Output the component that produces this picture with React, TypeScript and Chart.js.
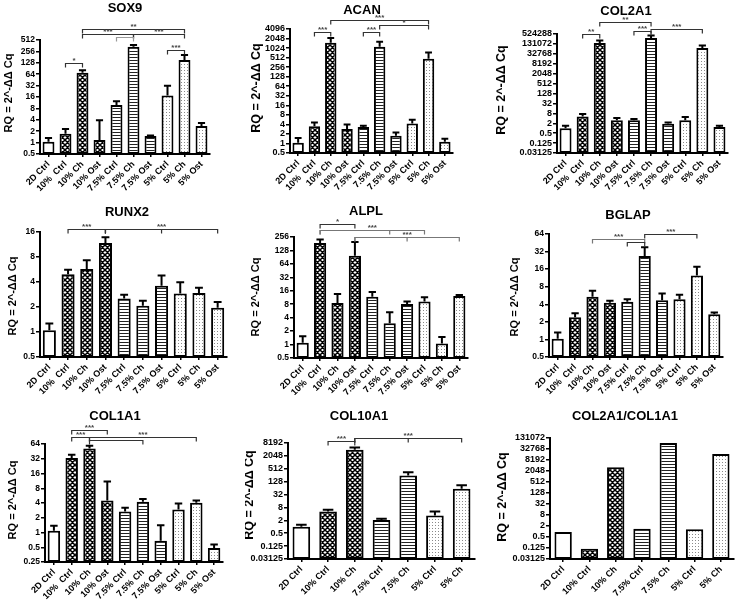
import React, { useEffect, useRef } from "react";
import { Chart, registerables } from "chart.js";
Chart.register(...registerables);

const FONT = "'Liberation Sans', Arial, Helvetica, sans-serif";
const Y_TITLE = "RQ = 2^-ΔΔ Cq";

// ---------- categories ----------
const labels10 = ["2D Ctrl", "10%  Ctrl", "10% Ch", "10% Ost", "7.5% Ctrl", "7.5% Ch", "7.5% Ost", "5% Ctrl", "5% Ch", "5% Ost"];
const labels7 = ["2D Ctrl", "10% Ctrl", "10% Ch", "7.5% Ctrl", "7.5% Ch", "5% Ctrl", "5% Ch"];

// ---------- SOX9 ----------
const sox9Mean = [1.05, 1.72, 70, 1.17, 9.9, 338, 1.5, 17.4, 152, 2.73];
const sox9ErrTop = [1.32, 2.28, 81, 3.9, 12.3, 375, 1.55, 31.7, 205, 3.3];
const sox9Ticks = [0.5, 1, 2, 4, 8, 16, 32, 64, 128, 256, 512];
const sox9Brackets: [number, number, number, string, string?][] = [
  [2, 8, 1000, "**"], [2, 5, 740, "***"], [5, 8, 740, "***"], [4, 5, 615, "", "#999"], [1, 2, 126, "*"], [7, 8, 278, "***"],
];

// ---------- ACAN ----------
const acanMean = [1.05, 3.5, 1510, 2.84, 3.3, 1130, 1.75, 4.3, 471, 1.13];
const acanErrTop = [1.5, 4.6, 2120, 4, 3.6, 1620, 2.2, 5.6, 748, 1.4];
const acanTicks = [0.5, 1, 2, 4, 8, 16, 32, 64, 128, 256, 512, 1024, 2048, 4096];
const acanBrackets: [number, number, number, string, string?][] = [
  [1, 2, 3350, "***"], [2, 8, 7860, "***"], [4, 5, 3350, "***"], [5, 8, 5480, "*"],
];

// ---------- COL2A1 ----------
const col2Mean = [1.0, 5.2, 148000, 3.0, 3.0, 299000, 1.88, 3.0, 73700, 1.18];
const col2ErrTop = [1.4, 7.3, 213000, 4.2, 3.6, 427000, 2.2, 4.8, 106000, 1.4];
const col2Ticks = [0.03125, 0.125, 0.5, 2, 8, 32, 128, 512, 2048, 8192, 32768, 131072, 524288];
const col2Brackets: [number, number, number, string, string?][] = [
  [1, 2, 550000, "**"], [2, 5, 2900000, "**"], [4, 5, 827000, "***"], [5, 8, 1050000, "***"],
];

// ---------- RUNX2 ----------
const runx2Mean = [1.05, 4.96, 5.75, 11.8, 2.54, 2.07, 3.6, 2.9, 2.95, 1.96];
const runx2ErrTop = [1.27, 5.6, 7.3, 13.8, 2.8, 2.38, 4.8, 3.97, 3.4, 2.3];
const runx2Ticks = [0.5, 1, 2, 4, 8, 16];
const runx2Brackets: [number, number, number, string, string?][] = [
  [1, 3, 17.5, "***"], [3, 6, 17.5, ""], [3, 9, 17.5, "***"],
];

// ---------- ALPL ----------
const alplMean = [1.1, 189, 8.5, 97, 11.8, 3.0, 8.1, 9.2, 1.06, 12.2];
const alplErrTop = [1.53, 224, 13.5, 199, 15, 5.3, 9.2, 11.5, 1.47, 12.8];
const alplTicks = [0.5, 1, 2, 4, 8, 16, 32, 64, 128, 256];
const alplBrackets: [number, number, number, string, string?][] = [
  [1, 3, 494, "*"], [1, 5, 375, "", "#777"], [1, 7, 375, "***", "#777"], [3, 6, 256, "", "#777"], [3, 9, 256, "***", "#777"],
];

// ---------- BGLAP ----------
const bglapMean = [1.03, 2.41, 5.4, 4.26, 4.4, 27, 4.7, 4.9, 12.4, 2.7];
const bglapErrTop = [1.31, 2.8, 6.8, 4.6, 4.9, 37.8, 6.1, 5.8, 17.5, 2.9];
const bglapTicks = [0.5, 1, 2, 4, 8, 16, 32, 64];
const bglapBrackets: [number, number, number, string, string?][] = [
  [2, 5, 52, "***", "#777"], [4, 5, 46.5, ""], [5, 8, 63.7, "***"],
];

// ---------- COL1A1 ----------
const col1Mean = [1.08, 33, 52, 4.5, 2.68, 4.25, 0.68, 2.94, 4.06, 0.48];
const col1ErrTop = [1.37, 38.5, 59, 11, 3.2, 4.8, 1.4, 3.9, 4.5, 0.57];
const col1Ticks = [0.25, 0.5, 1, 2, 4, 8, 16, 32, 64];
const col1Brackets: [number, number, number, string, string?][] = [
  [1, 3, 125, "***"], [1, 2, 87, "***"], [2, 8, 87, "***"], [2, 5, 75.8, ""],
];

// ---------- COL10A1 ----------
const col10Mean = [1.0, 5.2, 3960, 2.07, 250, 3.4, 60];
const col10ErrTop = [1.26, 6.2, 5100, 2.4, 350, 5.2, 86];
const col10Ticks = [0.03125, 0.125, 0.5, 2, 8, 32, 128, 512, 2048, 8192];
const col10Brackets: [number, number, number, string, string?][] = [
  [1, 2, 10600, "***"], [2, 4, 14200, ""], [2, 6, 14200, "***"],
];

// ---------- COL2A1/COL1A1 ----------
const ratioValues = [0.94, 0.115, 3250, 1.43, 70000, 1.31, 17500];
const ratioTicks = [0.03125, 0.125, 0.5, 2, 8, 32, 128, 512, 2048, 8192, 32768, 131072];

type Panel = {
  title: string;
  labels: string[];
  values: number[];
  errTop?: number[];
  ticks: number[];
  brackets: [number, number, number, string, string?][];
  box: [number, number, number, number];
  plot: [number, number, number, number];
  titlePos: [number, number];
  yTitlePos: [number, number];
  tickSize: number;
  yTitleSize: number;
  barPct: number;
};

const panels: Panel[] = [
  { title: "SOX9", labels: labels10, values: sox9Mean, errTop: sox9ErrTop, ticks: sox9Ticks, brackets: sox9Brackets,
    box: [0, 0, 245, 195], plot: [40, 40, 210, 154], titlePos: [125, 8], yTitlePos: [9, 93], tickSize: 8.5, yTitleSize: 11, barPct: 0.7 },
  { title: "ACAN", labels: labels10, values: acanMean, errTop: acanErrTop, ticks: acanTicks, brackets: acanBrackets,
    box: [245, 0, 245, 195], plot: [290, 29, 453, 153], titlePos: [362, 10], yTitlePos: [257, 88], tickSize: 9, yTitleSize: 12.5, barPct: 0.7 },
  { title: "COL2A1", labels: labels10, values: col2Mean, errTop: col2ErrTop, ticks: col2Ticks, brackets: col2Brackets,
    box: [490, 0, 250, 195], plot: [557, 34, 728, 153], titlePos: [626, 11], yTitlePos: [502, 90], tickSize: 9, yTitleSize: 12.5, barPct: 0.7 },
  { title: "RUNX2", labels: labels10, values: runx2Mean, errTop: runx2ErrTop, ticks: runx2Ticks, brackets: runx2Brackets,
    box: [0, 195, 245, 200], plot: [40, 232, 227, 357], titlePos: [127, 212], yTitlePos: [13, 296], tickSize: 8.5, yTitleSize: 11, barPct: 0.7 },
  { title: "ALPL", labels: labels10, values: alplMean, errTop: alplErrTop, ticks: alplTicks, brackets: alplBrackets,
    box: [245, 195, 245, 200], plot: [294, 237, 468, 358], titlePos: [366, 211], yTitlePos: [256, 297], tickSize: 8.5, yTitleSize: 11, barPct: 0.7 },
  { title: "BGLAP", labels: labels10, values: bglapMean, errTop: bglapErrTop, ticks: bglapTicks, brackets: bglapBrackets,
    box: [490, 195, 250, 200], plot: [549, 234, 723, 357], titlePos: [628, 215], yTitlePos: [515, 297], tickSize: 8.5, yTitleSize: 11, barPct: 0.7 },
  { title: "COL1A1", labels: labels10, values: col1Mean, errTop: col1ErrTop, ticks: col1Ticks, brackets: col1Brackets,
    box: [0, 395, 245, 207], plot: [45, 444, 223, 562], titlePos: [115, 416], yTitlePos: [13, 500], tickSize: 8.5, yTitleSize: 11, barPct: 0.7 },
  { title: "COL10A1", labels: labels7, values: col10Mean, errTop: col10ErrTop, ticks: col10Ticks, brackets: col10Brackets,
    box: [245, 395, 245, 207], plot: [288, 443, 475, 559], titlePos: [359, 416], yTitlePos: [250, 495], tickSize: 9, yTitleSize: 12.5, barPct: 0.66 },
  { title: "COL2A1/COL1A1", labels: labels7, values: ratioValues, ticks: ratioTicks, brackets: [],
    box: [490, 395, 250, 207], plot: [550, 438, 734, 559], titlePos: [625, 416], yTitlePos: [503, 497], tickSize: 9, yTitleSize: 12.5, barPct: 0.66 },
];

function makePatterns() {
  const mk = (w: number, h: number, draw: (g: CanvasRenderingContext2D) => void) => {
    const c = document.createElement("canvas");
    c.width = w; c.height = h;
    const g = c.getContext("2d")!;
    g.fillStyle = "#fff";
    g.fillRect(0, 0, w, h);
    draw(g);
    const tmp = document.createElement("canvas").getContext("2d")!;
    return tmp.createPattern(c, "repeat")!;
  };
  const cross = mk(5, 5, (g) => {
    g.strokeStyle = "#000";
    g.lineWidth = 1.5;
    g.beginPath();
    for (let k = -5; k <= 5; k += 5) {
      g.moveTo(k - 1, -1); g.lineTo(k + 6, 6);
      g.moveTo(k + 6, -1); g.lineTo(k - 1, 6);
    }
    g.stroke();
  });
  const hline = mk(4, 3, (g) => {
    g.fillStyle = "#222";
    g.fillRect(0, 0, 4, 1);
  });
  const dots = mk(3, 3, (g) => {
    g.fillStyle = "#8a8a8a";
    g.fillRect(1, 1, 1, 1);
  });
  return { cross, hline, dots };
}

function fillFor(label: string, pats: ReturnType<typeof makePatterns>) {
  if (label.startsWith("10%")) return pats.cross;
  if (label.startsWith("7.5%")) return pats.hline;
  if (label.startsWith("5%")) return pats.dots;
  return "#ffffff";
}

function PanelChart({ p }: { p: Panel }) {
  const ref = useRef<HTMLCanvasElement>(null);
  const [L, T, W, H] = p.box;
  useEffect(() => {
    const cv = ref.current!;
    const [ax, top, right, bottom] = p.plot;
    const pats = makePatterns();
    const bg = p.labels.map((l) => fillFor(l, pats));

    const overlay = {
      id: "overlay",
      afterDatasetsDraw(chart: any) {
        const ctx: CanvasRenderingContext2D = chart.ctx;
        const ys = chart.scales.y;
        const xs = chart.scales.x;
        const meta = chart.getDatasetMeta(0);
        ctx.save();
        if (p.errTop) {
          ctx.strokeStyle = "#000";
          ctx.lineWidth = 2;
          p.errTop.forEach((e, i) => {
            const bar: any = meta.data[i];
            const yTop = ys.getPixelForValue(e);
            const cap = bar.width * 0.6;
            ctx.beginPath();
            ctx.moveTo(bar.x, bar.y);
            ctx.lineTo(bar.x, yTop);
            ctx.moveTo(bar.x - cap / 2, yTop);
            ctx.lineTo(bar.x + cap / 2, yTop);
            ctx.stroke();
          });
        }
        p.brackets.forEach(([a, b, lvl, lab, col]) => {
          const x1 = xs.getPixelForValue(a);
          const x2 = xs.getPixelForValue(b);
          const y = Math.round(ys.getPixelForValue(lvl)) + 0.5;
          ctx.strokeStyle = col || "#333";
          ctx.lineWidth = 1.2;
          ctx.beginPath();
          ctx.moveTo(x1, y + 4);
          ctx.lineTo(x1, y);
          ctx.lineTo(x2, y);
          ctx.lineTo(x2, y + 4);
          ctx.stroke();
          if (lab) {
            ctx.fillStyle = "#444";
            ctx.font = `bold 8px ${FONT}`;
            ctx.textAlign = "center";
            ctx.textBaseline = "bottom";
            ctx.fillText(lab, (x1 + x2) / 2, y + 1);
          }
        });
        ctx.fillStyle = "#000";
        ctx.font = `bold 13px ${FONT}`;
        ctx.textAlign = "center";
        ctx.textBaseline = "middle";
        ctx.fillText(p.title, p.titlePos[0] - L, p.titlePos[1] - T);
        ctx.translate(p.yTitlePos[0] - L, p.yTitlePos[1] - T);
        ctx.rotate(-Math.PI / 2);
        ctx.font = `bold ${p.yTitleSize}px ${FONT}`;
        ctx.fillText(Y_TITLE, 0, 0);
        ctx.restore();
      },
    };

    const chart = new Chart(cv, {
      type: "bar",
      data: {
        labels: p.labels,
        datasets: [
          {
            data: p.values,
            backgroundColor: bg as any,
            borderColor: "#000",
            borderWidth: 2,
            borderSkipped: false,
            barPercentage: p.barPct,
            categoryPercentage: 1,
          },
        ],
      },
      options: {
        responsive: false,
        animation: false,
        devicePixelRatio: 1,
        layout: { padding: { left: 0, top: top - T, right: L + W - right, bottom: 0 } },
        plugins: { legend: { display: false }, tooltip: { enabled: false }, title: { display: false } },
        scales: {
          x: {
            type: "category",
            offset: true,
            grid: { display: true, drawOnChartArea: false, drawTicks: true, tickLength: 3, color: "#000", lineWidth: 1.5, offset: false },
            border: { display: true, color: "#000", width: 2 },
            ticks: { autoSkip: false, minRotation: 45, maxRotation: 45, color: "#000", padding: 2, font: { family: FONT, weight: "bold", size: 9 } },
            afterFit: (s: any) => { s.height = H - (bottom - T); },
          },
          y: {
            type: "logarithmic",
            min: p.ticks[0],
            max: p.ticks[p.ticks.length - 1],
            grid: { display: true, drawOnChartArea: false, drawTicks: true, tickLength: 4, color: "#000", lineWidth: 1.5 },
            border: { display: true, color: "#000", width: 2 },
            ticks: { autoSkip: false, color: "#000", padding: 1, font: { family: FONT, weight: "bold", size: p.tickSize }, callback: (v: any) => String(v) },
            afterBuildTicks: (s: any) => { s.ticks = p.ticks.map((v) => ({ value: v })); },
            afterFit: (s: any) => { s.width = ax - L; },
          },
        },
      } as any,
      plugins: [overlay],
    });
    return () => chart.destroy();
  }, []);
  return <canvas ref={ref} width={W} height={H} style={{ position: "absolute", left: L, top: T, width: W, height: H }} />;
}

export default function App() {
  return (
    <div style={{ position: "absolute", left: 0, top: 0, width: 740, height: 602, background: "#fff" }}>
      {panels.map((p) => (
        <PanelChart key={p.title} p={p} />
      ))}
    </div>
  );
}
